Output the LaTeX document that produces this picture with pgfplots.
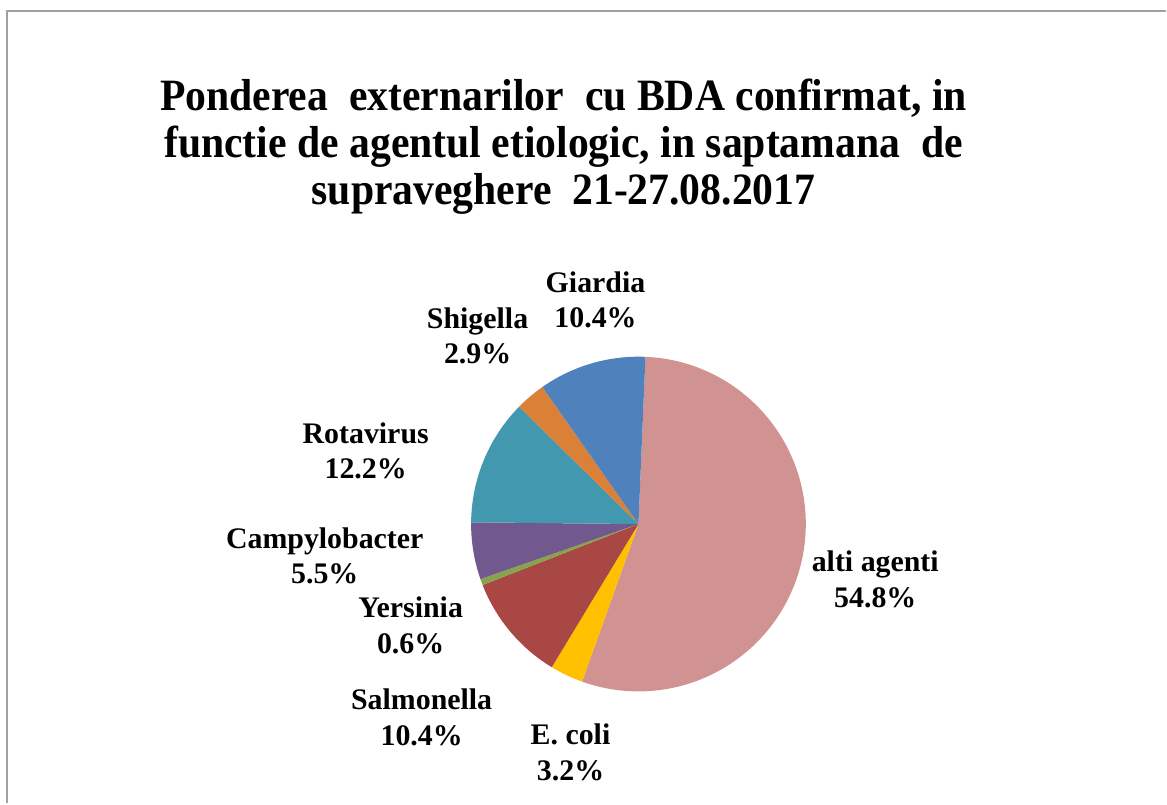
\documentclass[border=0pt]{standalone}
\usepackage{pgfplots}
\usepackage{pgfplotstable}
\pgfplotsset{compat=1.18}
\usepackage{fontspec}
\setmainfont{Liberation Serif}
\usepackage{graphicx}

\definecolor{cAlti}{HTML}{D19392}
\definecolor{cEcoli}{HTML}{FFC000}
\definecolor{cSalm}{HTML}{A94744}
\definecolor{cYers}{HTML}{86A44A}
\definecolor{cCamp}{HTML}{71588F}
\definecolor{cRota}{HTML}{4198AF}
\definecolor{cShig}{HTML}{DA8137}
\definecolor{cGiar}{HTML}{4F81BD}
\definecolor{frame}{HTML}{A0A0A0}

\pgfplotstableread[col sep=comma]{
name,value,color
alti agenti,54.8,cAlti
E. coli,3.2,cEcoli
Salmonella,10.4,cSalm
Yersinia,0.6,cYers
Campylobacter,5.5,cCamp
Rotavirus,12.2,cRota
Shigella,2.9,cShig
Giardia,10.4,cGiar
}\piedata

\begin{document}
\begin{tikzpicture}
\begin{axis}[
  width=1167bp, height=804bp, scale only axis,
  xmin=0, xmax=1167, ymin=0, ymax=804,
  enlargelimits=false, hide axis, clip=false,
]
\pgfplotsextra{
  \path (axis cs:0,0) rectangle (axis cs:1167,804);
  \draw[frame, line width=2bp] (axis cs:7,0) -- (axis cs:7,793) -- (axis cs:1167,793);
  \xdef\cur{87.6}
  \foreach \i in {0,...,7}{
    \pgfplotstablegetelem{\i}{value}\of\piedata \let\v\pgfplotsretval
    \pgfplotstablegetelem{\i}{color}\of\piedata \let\c\pgfplotsretval
    \pgfmathsetmacro\nxt{\cur-3.6*\v}
    \fill[\c] (axis cs:639,279.5) -- (axis cs:{639+167.5*cos(\cur)},{279.5+167.5*sin(\cur)})
      arc[start angle=\cur, end angle=\nxt, radius=167.5bp] -- cycle;
    \xdef\cur{\nxt}
  }
  \node[font=\fontsize{45}{47}\selectfont\bfseries, align=center, inner sep=0pt]
    at (axis cs:564,656) {\scalebox{0.93}[1]{\begin{tabular}{@{}c@{}}Ponderea\ \ externarilor\ \ cu BDA confirmat, in\\ functie de agentul etiologic, in saptamana\ \ de\\ supraveghere\ \ 21-27.08.2017\end{tabular}}};
  \tikzset{lbl/.style={font=\fontsize{30}{35.5}\selectfont\bfseries, align=center, inner sep=0pt}}
  \node[lbl] at (axis cs:596,504) {Giardia\\10.4\%};
  \node[lbl] at (axis cs:478,468) {Shigella\\2.9\%};
  \node[lbl] at (axis cs:366,353) {Rotavirus\\12.2\%};
  \node[lbl] at (axis cs:325,248) {Campylobacter\\5.5\%};
  \node[lbl] at (axis cs:411,178) {Yersinia\\0.6\%};
  \node[lbl] at (axis cs:422,86) {Salmonella\\10.4\%};
  \node[lbl] at (axis cs:571,51) {E. coli\\3.2\%};
  \node[lbl] at (axis cs:876,224) {alti agenti\\54.8\%};
}
\end{axis}
\end{tikzpicture}
\end{document}
